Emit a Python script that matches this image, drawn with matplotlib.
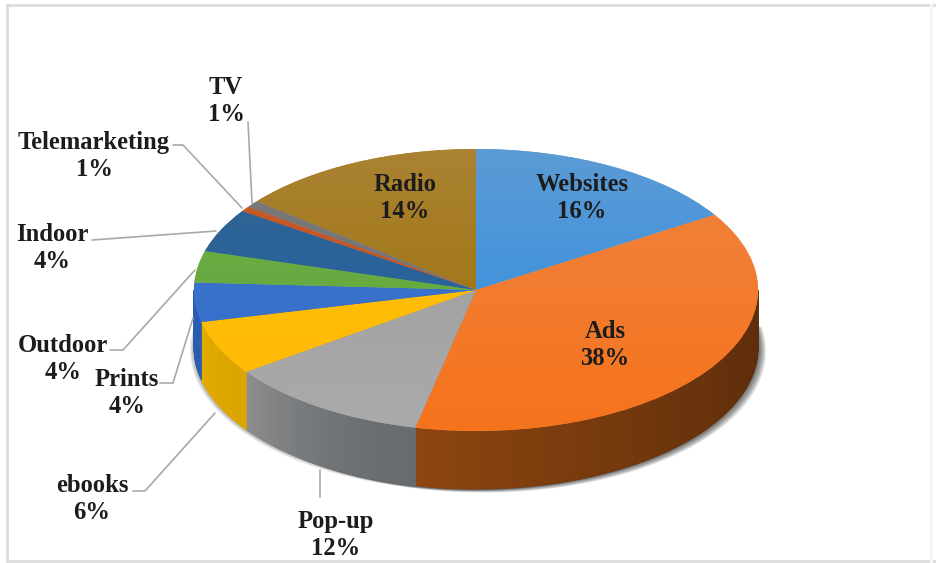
"""Pseudo-3D pie of marketing channels, drawn from ax.pie plus hand-built walls."""

import numpy as np
import matplotlib
matplotlib.use("Agg")
import matplotlib.pyplot as plt
from matplotlib.collections import PolyCollection
from matplotlib.colors import LinearSegmentedColormap, to_rgb
from matplotlib.lines import Line2D

# ---------------------------------------------------------------------------
# Data
# ---------------------------------------------------------------------------
names = ["Websites", "Ads", "Pop-up", "ebooks", "Prints", "Outdoor", "Indoor",
         "Telemarketing", "TV", "Radio"]
percent_labels = [16, 38, 12, 6, 4, 4, 4, 1, 1, 14]
# slice sizes as measured on the rim (labels above are the rounded ones)
shares = [16.05, 37.4, 11.7, 6.2, 4.5, 3.6, 5.0, 0.6, 0.8, 14.15]

# ---------------------------------------------------------------------------
# Layout and styles
# ---------------------------------------------------------------------------
W, H = 936, 563
CX, CY, RX, RY = 476, 290, 282, 141
DEPTH = 58 / RY

top_light = ["#5b9bd5", "#ee8440", "#9c9c9c", "#ffc000", "#4472c4", "#70ad47",
             "#33638f", "#c55a2a", "#7a7a7a", "#ab8232"]
top_dark = ["#2b8ae2", "#f6731c", "#aaaaaa", "#ffba08", "#2f6fd0", "#5fa83a",
            "#1d63a8", "#c9521a", "#707070", "#976f00"]
# wall colours: (clockwise start of slice, clockwise end of slice)
wall_colors = [("#3a6a96", "#3a6a96"), ("#57290a", "#8e4610"), ("#676c70", "#8f8f8f"),
               ("#dca600", "#e6ad00"), ("#2a5cb0", "#2a5cb0"), ("#4f7a32", "#4f7a32"),
               ("#1c4670", "#1c4670"), ("#8a3f10", "#8a3f10"), ("#555555", "#555555"),
               ("#6b5000", "#6b5000")]

label_pos = {
    "Websites": (582, 198), "Ads": (605, 345), "Pop-up": (336, 535),
    "ebooks": (92, 499), "Prints": (127, 393), "Outdoor": (63, 359),
    "Indoor": (52, 248), "Telemarketing": (94, 156), "TV": (226, 101),
    "Radio": (405, 198),
}
leaders = [
    [(248, 122), (252, 203)],
    [(173, 145), (183, 145), (242, 208)],
    [(92, 240), (216, 231)],
    [(110, 350), (123, 350), (195, 270)],
    [(160, 383), (173, 383), (193, 318)],
    [(133, 491), (145, 491), (215, 413)],
    [(320, 470), (320, 497)],
]
# chart frame in reference pixels: start, end, colour
frame_lines = [
    ((7, 5), (936, 5), "#dedede"),
    ((7, 561), (936, 561), "#dedede"),
    ((7, 5), (7, 561), "#dedede"),
    ((931, 5), (931, 561), "#f6f6f6"),
]


def px(x, y):
    """Reference pixel -> data units of the unit-radius pie."""
    return (x - CX) / RX, (CY - y) / RY


# ---------------------------------------------------------------------------
# Figure
# ---------------------------------------------------------------------------
plt.rcParams["font.family"] = ["Liberation Serif", "DejaVu Serif"]
fig = plt.figure(figsize=(W / 100, H / 100), dpi=100, facecolor="white")
ax = fig.add_axes([0, 0, 1, 1])

wedges, _ = ax.pie(shares, colors=top_light, startangle=90, counterclock=False,
                   radius=1.0, center=(0, 0), frame=False)
ax.set_aspect("auto")
for w in wedges:
    w.set_zorder(5)

# vertical gradient on each top face
grad = np.linspace(0, 1, 64)[:, None]
for w, light, dark in zip(wedges, top_light, top_dark):
    cmap = LinearSegmentedColormap.from_list("face", [dark, light])
    im = ax.imshow(grad, cmap=cmap, extent=(-1, 1, -1, 1), origin="lower",
                   aspect="auto", zorder=6, interpolation="bilinear")
    im.set_clip_path(w)

# side wall, from the same cumulative shares, only the front half is visible
edges = np.concatenate([[0], np.cumsum(shares)]) / np.sum(shares) * 360
polys, cols = [], []
for i in range(len(shares)):
    a0, a1 = max(edges[i], 90), min(edges[i + 1], 270)
    if a1 <= a0:
        continue
    steps = np.arange(a0, a1 + 1.0, 1.0)
    steps[-1] = a1
    c0, c1 = np.array(to_rgb(wall_colors[i][0])), np.array(to_rgb(wall_colors[i][1]))
    for t0, t1 in zip(steps[:-1], steps[1:]):
        x0, y0 = np.sin(np.radians(t0)), np.cos(np.radians(t0))
        x1, y1 = np.sin(np.radians(t1)), np.cos(np.radians(t1))
        polys.append([(x0, y0), (x1, y1), (x1, y1 - DEPTH), (x0, y0 - DEPTH)])
        f = ((t0 - edges[i]) / (edges[i + 1] - edges[i])) ** 1.6
        cols.append(c0 + (c1 - c0) * f)
ax.add_collection(PolyCollection(polys, facecolors=cols, edgecolors=cols,
                                 linewidths=0.6, zorder=4))

# soft shadow under the wall, mostly to the lower right, a little on the left
theta = np.radians(np.linspace(80, 285, 200))
sx, sy = np.sin(theta), np.cos(theta) - DEPTH
for k in range(1, 9):
    dx, dy = k / RX, -0.45 * k / RY
    ax.fill(np.r_[sx + dx, 0], np.r_[sy + dy, 0], color="black", alpha=0.09,
            lw=0, zorder=3)
for k in range(1, 5):
    ax.fill(np.r_[sx - k / RX, 0], np.r_[sy - 0.5 * k / RY, 0], color="black",
            alpha=0.08, lw=0, zorder=3)

# leader lines
for pts in leaders:
    xy = np.array([px(*p) for p in pts])
    ax.plot(xy[:, 0], xy[:, 1], color="#a9a9a9", lw=1.2, zorder=7,
            solid_capstyle="round")

# labels
for name, pct in zip(names, percent_labels):
    x, y = px(*label_pos[name])
    ax.text(x, y, f"{name}\n{pct}%", ha="center", va="center", fontsize=17.7,
            fontweight="bold", color="#1c1c1c", linespacing=1.2, zorder=8)

ax.set_xlim(-CX / RX, (W - CX) / RX)
ax.set_ylim((CY - H) / RY, CY / RY)
ax.axis("off")

# outer chart frame
for (x0, y0), (x1, y1), col in frame_lines:
    fig.add_artist(Line2D([x0 / W, x1 / W], [1 - y0 / H, 1 - y1 / H], color=col,
                          lw=2.2, transform=fig.transFigure))

fig.savefig("out.png", dpi=100)
plt.close(fig)
